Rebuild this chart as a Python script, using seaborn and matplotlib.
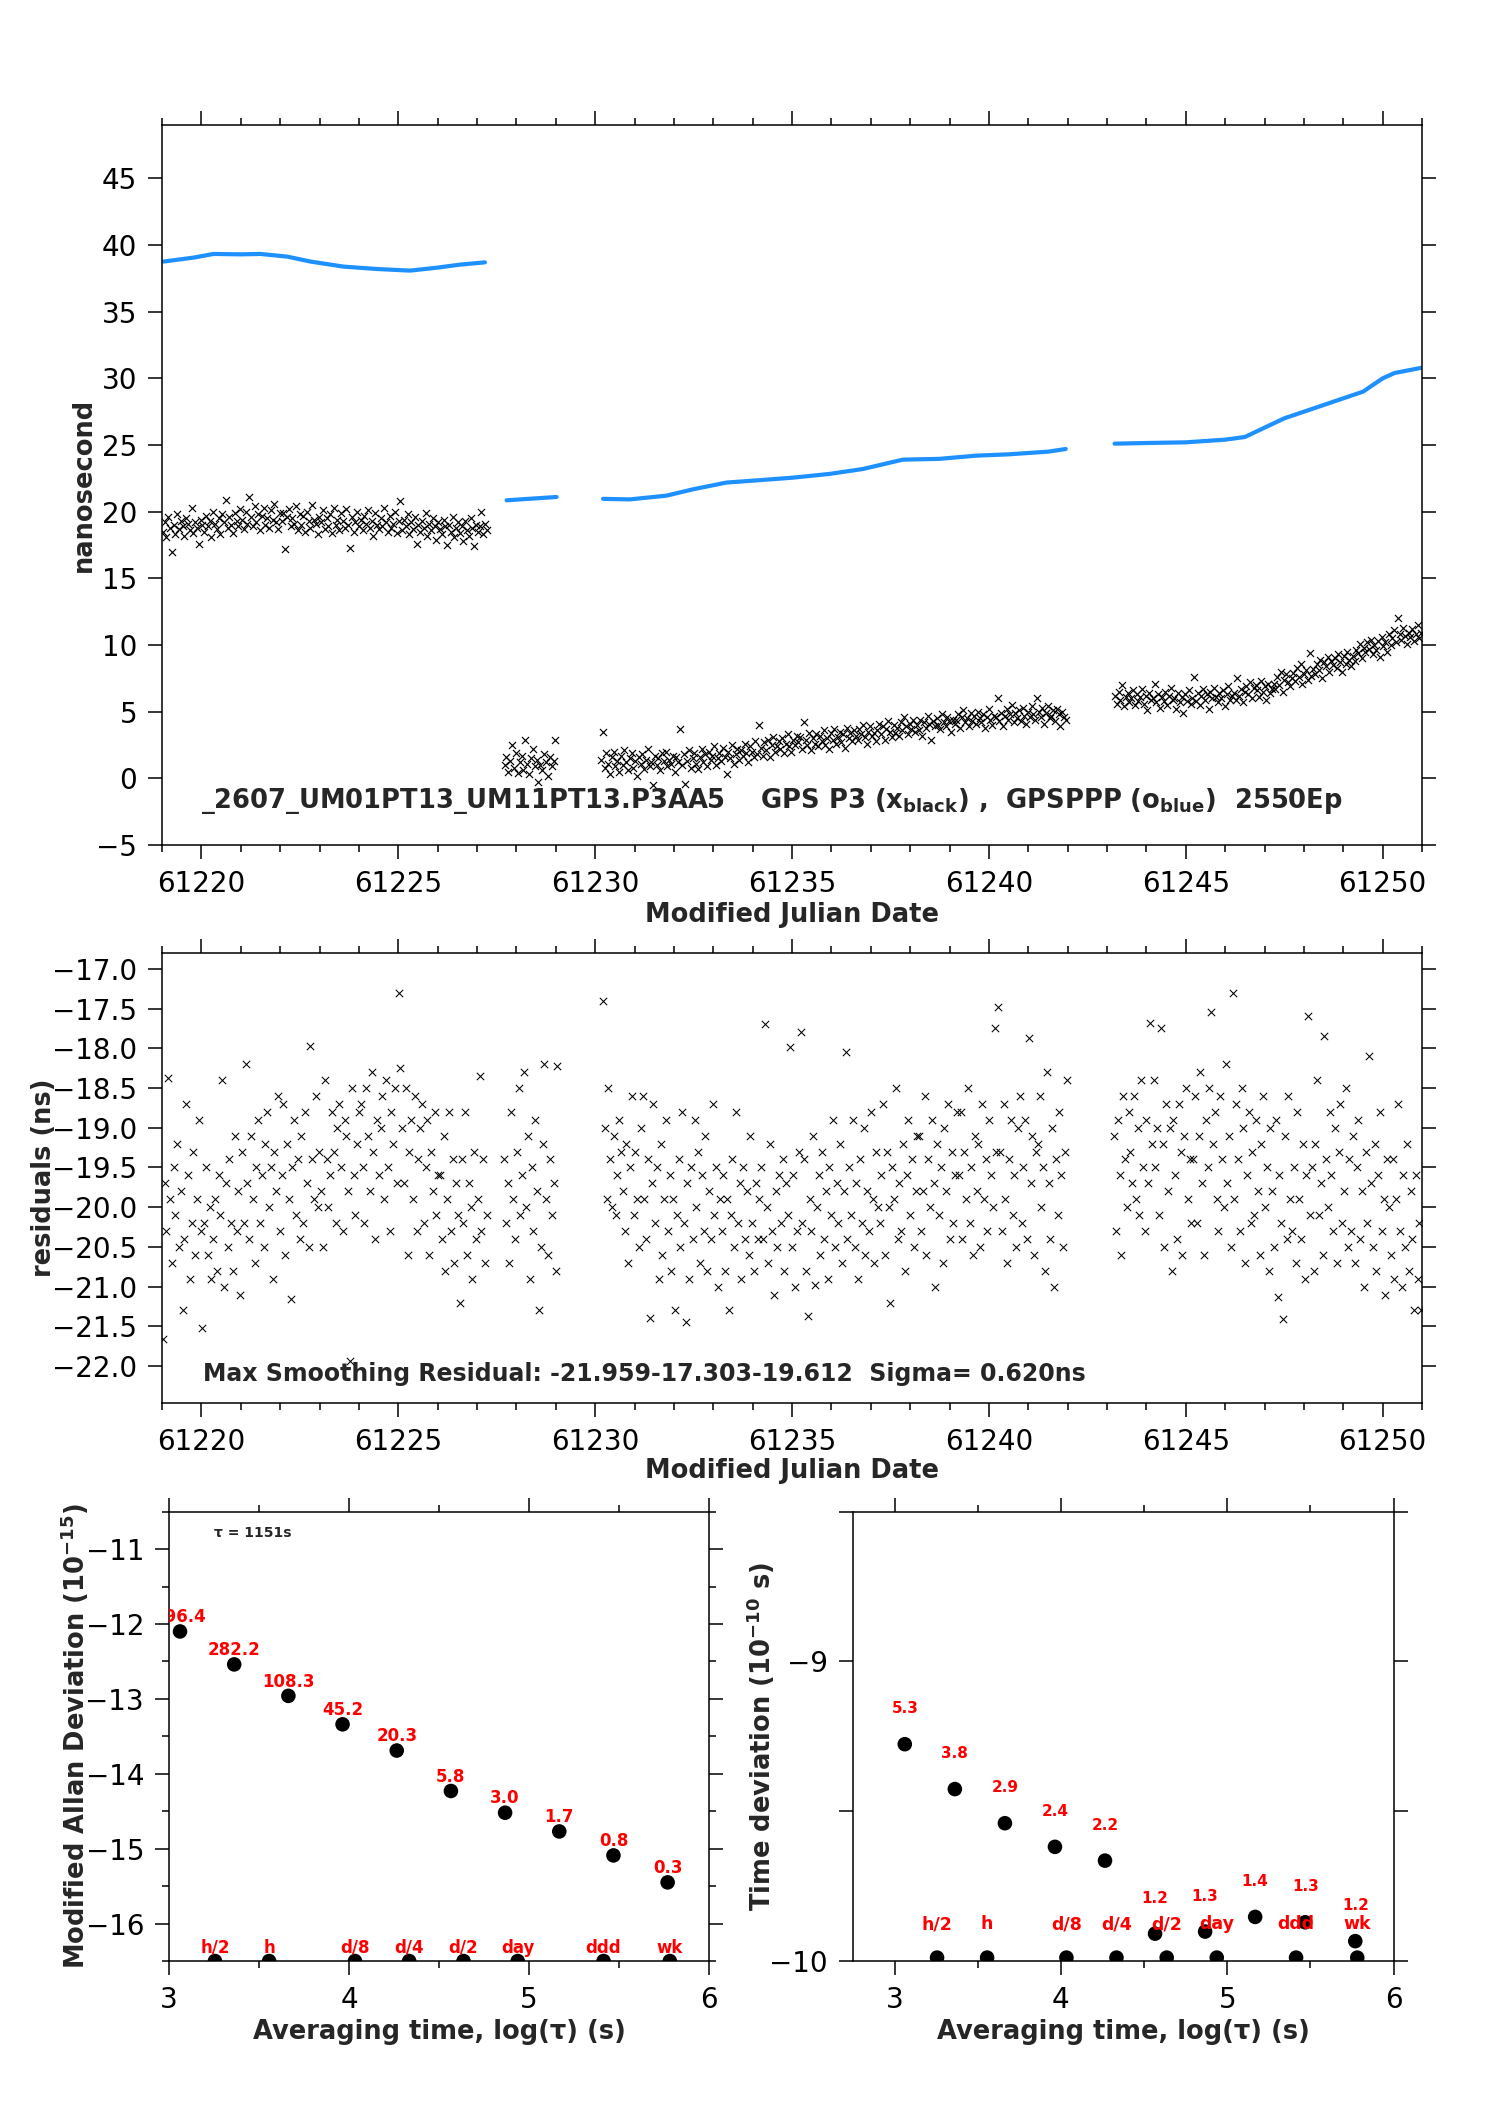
import numpy as np
import pandas as pd
import matplotlib
matplotlib.use("Agg")
import matplotlib.pyplot as plt
from matplotlib.ticker import MultipleLocator, FuncFormatter
import seaborn as sns

# ------------------------------------------------------------------ data
# Top panel: GPS P3 clock differences (black x), four data segments (ns)
p3_seg_start = [61219.02, 61227.70, 61230.15, 61243.20]
p3_seg_end = [61227.25, 61228.99, 61241.95, 61250.98]
p3_a = [18.5, 19.2, 18.1, 19.6, 18.8, 17.0, 19.0, 18.3, 19.8, 18.7, 19.3,
        18.9, 18.2, 19.5, 19.1, 18.6, 20.3, 18.4, 19.2, 18.8, 17.6, 19.4,
        19.0, 18.5, 19.7, 18.9, 19.3, 18.1, 20.0, 19.1, 18.7, 19.5, 18.3,
        19.8, 19.2, 20.9, 18.8, 19.6, 19.0, 18.4, 19.9, 19.3, 18.9, 20.2,
        19.4, 18.7, 20.0, 19.1, 21.1, 19.6, 18.9, 20.4, 19.2, 19.8, 18.6,
        19.7, 20.3, 19.0, 19.5, 18.8, 20.1, 19.4, 20.6, 19.2, 18.7, 19.9,
        19.3, 19.9, 17.2, 19.6, 20.2, 18.9, 19.5, 19.1, 20.4, 18.6, 19.8,
        19.0, 19.7, 18.5, 20.0, 19.3, 18.8, 20.5, 19.4, 19.1, 18.3, 19.6,
        19.2, 20.1, 18.7, 19.5, 18.9, 19.8, 18.4, 20.3, 19.0, 19.4, 18.6,
        19.9, 19.3, 18.8, 20.2, 19.0, 17.3, 19.6, 18.5, 19.2, 20.0, 18.9,
        19.4, 18.6, 19.7, 19.1, 20.1, 18.8, 19.3, 18.2, 19.9, 19.0, 18.7,
        19.5, 18.9, 20.3, 19.2, 18.5, 19.7, 18.8, 19.1, 20.0, 18.4, 19.3,
        20.8, 18.6, 19.4, 18.9, 19.8, 18.3, 19.2, 18.7, 19.6, 17.6, 19.0,
        18.5, 19.3, 18.8, 19.9, 18.2, 19.1, 18.6, 19.5, 18.9, 17.9, 19.2,
        18.7, 18.3, 19.4, 18.9, 17.5, 19.0, 18.5, 19.6, 18.1, 18.8, 19.2,
        18.4, 18.9, 17.8, 19.3, 18.6, 18.2, 19.5, 18.8, 17.4, 19.0, 18.5,
        18.9, 20.0, 18.3, 19.1, 18.6]
p3_b = [1.0, 1.6, 0.5, 1.3, 2.5, 0.8, 1.9, 0.4, 1.2, 1.7, 0.6, 2.9, 1.1, 0.3,
        1.5, 2.2, 0.9, 1.4, -0.3, 1.0, 0.6, 1.8, 1.2, 0.2, 1.6, 0.9, 1.3, 2.9]
p3_c = [1.4, 3.5, 0.8, 1.9, 1.1, 0.3, 1.6, 2.0, 0.9, 1.3, 0.5,
        1.7, 1.0, 2.1, 1.2, 0.6, 1.5, 1.9, 0.8, 1.3, 0.2, 1.6,
        1.1, 1.8, 0.7, 1.4, 2.2, 0.9, 1.2, -0.5, 1.7, 1.0, 1.5,
        0.6, 1.9, 1.3, 2.0, 0.9, 1.4, 1.1, 1.7, 0.5, 1.6, 1.2,
        3.7, 1.0, 1.8, -0.4, 1.3, 2.1, 0.8, 1.5, 1.9, 1.1, 0.7,
        1.6, 2.2, 1.2, 1.8, 0.9, 2.0, 1.4, 1.7, 2.4, 1.0, 1.5,
        1.9, 1.3, 2.3, 1.6, 0.3, 2.0, 1.5, 2.5, 1.1, 1.8, 2.2,
        1.4, 2.1, 1.7, 2.6, 1.9, 1.2, 2.4, 2.0, 1.6, 2.8, 1.8,
        4.0, 2.3, 1.7, 2.7, 2.1, 2.9, 1.6, 2.5, 3.1, 2.0, 2.4,
        2.8, 2.2, 3.0, 1.9, 2.6, 3.3, 2.4, 2.0, 2.9, 2.5, 3.2,
        2.7, 3.1, 2.2, 4.2, 2.9, 2.5, 3.4, 2.1, 3.0, 2.6, 3.3,
        2.4, 3.2, 2.8, 3.6, 2.5, 3.0, 2.2, 3.4, 2.9, 3.7, 2.6,
        3.1, 3.5, 2.7, 3.3, 2.3, 3.8, 3.0, 3.4, 2.8, 3.6, 3.2,
        2.9, 3.7, 3.3, 4.0, 3.1, 2.6, 3.5, 3.9, 3.2, 3.4, 2.8,
        3.6, 4.1, 3.3, 3.9, 2.9, 3.7, 4.3, 3.5, 3.1, 4.0, 3.4,
        3.8, 3.2, 4.2, 3.6, 4.6, 3.9, 3.3, 4.1, 3.7, 4.4, 3.5,
        4.0, 3.6, 4.4, 3.2, 4.2, 3.8, 4.7, 4.1, 2.9, 4.3, 3.9,
        4.5, 4.0, 3.7, 4.8, 4.2, 3.9, 4.6, 4.3, 3.5, 4.4, 4.1,
        4.4, 4.8, 3.8, 4.6, 5.1, 4.2, 4.5, 3.9, 4.9, 4.3, 4.7,
        4.1, 5.0, 4.5, 4.2, 4.8, 3.8, 4.6, 5.2, 4.4, 4.0, 4.7,
        4.6, 6.0, 4.3, 4.9, 3.9, 4.7, 5.2, 4.4, 4.8, 5.5, 4.2,
        4.9, 4.5, 5.1, 4.3, 5.3, 4.7, 4.1, 5.0, 4.6, 5.4, 4.8,
        4.4, 6.0, 5.0, 4.6, 5.3, 4.1, 4.9, 5.4, 4.5, 4.7, 5.1,
        4.3, 5.2, 4.8, 3.9, 5.0, 4.6, 4.4]
p3_d = [6.2, 5.6, 6.5, 5.9, 7.0, 5.4, 6.1, 6.4, 5.7, 6.0, 6.6,
        5.5, 6.3, 5.8, 6.1, 6.7, 5.6, 6.2, 5.1, 6.4, 5.9, 6.0,
        7.1, 5.7, 6.3, 5.3, 6.1, 5.8, 6.5, 5.5, 6.2, 6.8, 5.9,
        6.0, 5.2, 6.4, 5.7, 6.1, 4.9, 6.3, 5.8, 6.6, 5.6, 6.0,
        7.6, 5.8, 6.4, 5.5, 6.2, 6.7, 5.9, 6.3, 5.2, 6.5, 6.0,
        6.8, 6.1, 5.7, 6.4, 6.0, 6.6, 5.4, 6.3, 6.9, 5.9, 6.2,
        6.4, 5.9, 7.5, 6.2, 6.7, 5.7, 6.5, 6.9, 6.3, 7.2, 6.0,
        6.8, 7.0, 6.6, 6.1, 7.3, 6.5, 6.9, 5.9, 7.1, 6.4, 6.7,
        7.1, 6.7, 7.6, 7.0, 8.0, 6.5, 7.4, 7.8, 7.2, 6.9, 7.5,
        7.9, 7.3, 8.3, 7.6, 8.6, 7.1, 7.8, 8.1, 7.4, 9.4, 7.7,
        8.2, 7.8, 8.6, 8.1, 8.9, 7.5, 8.7, 8.4, 9.1, 8.0, 8.8,
        8.5, 9.0, 8.3, 9.3, 8.7, 8.0, 9.2, 8.6, 9.5, 8.9, 8.4,
        9.2, 8.8, 9.6, 9.4, 10.1, 9.0, 9.8, 9.5, 10.2, 9.7, 10.4,
        9.3, 10.0, 9.6, 10.3, 9.1, 10.6, 9.9, 10.2, 9.5, 10.8, 10.0,
        10.5, 11.1, 10.2, 12.0, 10.8, 10.4, 11.3, 10.7, 10.1, 10.9, 10.6,
        11.2, 10.3, 10.8, 11.5, 10.5, 10.9]

# Top panel: GPSPPP (blue)
ppp_a_mjd = [61219.04, 61219.81, 61220.31, 61221.0, 61221.50, 61222.18, 61222.77, 61223.61,
             61224.46, 61225.30, 61225.98, 61226.57, 61227.2]
ppp_a_ns = [38.76, 39.06, 39.33, 39.30, 39.33, 39.13, 38.76, 38.38, 38.2, 38.08, 38.3, 38.53, 38.7]
ppp_b_mjd = [61227.75, 61228.4, 61229.02]
ppp_b_ns = [20.85, 20.98, 21.1]
ppp_c_mjd = [61230.2, 61230.88, 61231.81, 61232.49, 61233.33, 61234.26, 61235.02, 61235.95,
             61236.8, 61237.81, 61238.74, 61239.67, 61240.5, 61241.0, 61241.5, 61241.95]
ppp_c_ns = [20.96, 20.92, 21.2, 21.68, 22.18, 22.38, 22.55, 22.83, 23.2, 23.9, 23.96, 24.2,
            24.3, 24.4, 24.5, 24.7]
ppp_d_mjd = [61243.19, 61244.0, 61245.0, 61246.0, 61246.5, 61247.0, 61247.5, 61248.0, 61248.5,
             61249.0, 61249.5, 61250.0, 61250.3, 61251.0]
ppp_d_ns = [25.1, 25.15, 25.2, 25.4, 25.6, 26.3, 27.0, 27.5, 28.0, 28.5, 29.0, 30.0, 30.4, 30.8]

# Middle panel: smoothing residuals (ns)
res_seg_start = [61219.02, 61227.68, 61230.20, 61243.18]
res_seg_end = [61227.25, 61229.04, 61241.97, 61250.98]
res_a = [-21.66, -19.7, -20.3, -18.38, -19.9, -20.7, -19.5, -20.1, -19.2, -20.5, -19.8,
         -21.3, -20.4, -18.7, -19.6, -20.9, -20.2, -19.3, -20.6, -19.9, -18.9, -20.3,
         -21.52, -20.2, -19.5, -20.6, -20.0, -20.9, -20.4, -19.9, -20.8, -19.6, -20.1,
         -18.4, -21.0, -19.7, -20.5, -19.4, -20.2, -20.8, -19.1, -20.3, -19.8, -21.1,
         -19.3, -20.2, -18.2, -19.7, -20.4, -19.1, -19.9, -20.7, -19.5, -18.9, -20.2,
         -19.6, -20.5, -19.2, -18.8, -20.0, -19.5, -20.9, -19.3, -19.8, -18.6, -20.3,
         -19.6, -18.7, -20.6, -19.2, -19.9, -21.15, -19.5, -18.9, -20.1, -19.4, -20.4,
         -19.1, -20.2, -18.8, -19.7, -20.5, -17.97, -19.4, -19.9, -18.6, -20.0, -19.3,
         -19.8, -20.5, -18.4, -19.4, -20.0, -19.6, -18.8, -19.3, -20.2, -19.0, -18.7,
         -19.5, -20.3, -18.9, -19.1, -19.8, -21.94, -18.5, -19.6, -20.1, -19.2, -18.8,
         -18.7, -19.5, -20.2, -18.5, -19.1, -19.8, -18.3, -19.3, -20.4, -18.9, -19.6,
         -19.0, -18.6, -19.9, -18.4, -19.5, -20.3, -18.8, -19.2, -18.5, -19.7, -17.30,
         -18.25, -19.0, -19.7, -18.5, -20.6, -19.3, -18.9, -19.9, -18.6, -20.3, -19.4,
         -19.0, -18.7, -20.2, -19.5, -18.9, -20.6, -19.3, -19.8, -18.8, -20.1, -19.6,
         -19.6, -20.4, -19.1, -20.8, -19.9, -18.8, -20.3, -19.4, -20.7, -19.7, -20.1,
         -21.2, -19.4, -20.2, -18.8, -20.6, -19.7, -20.0, -20.9, -19.3, -20.4, -19.9,
         -18.35, -20.3, -19.4, -20.7, -20.1]
res_b = [-19.4, -20.2, -19.7, -20.7, -18.8, -19.9, -20.4, -19.3, -18.5, -20.1, -19.6, -18.3,
         -20.0, -19.1, -20.9, -19.5, -20.3, -18.9, -19.8, -21.3, -20.5, -19.2, -18.2, -19.9,
         -20.6, -19.4, -20.1, -19.7, -20.8, -18.22]
res_c = [-17.4, -19.0, -19.9, -18.5, -19.4, -20.0, -19.1, -20.1, -19.6, -18.9, -19.3,
         -19.8, -20.3, -19.2, -20.7, -19.5, -18.6, -20.1, -19.3, -19.9, -20.5, -19.0,
         -18.6, -19.9, -20.4, -19.4, -21.4, -19.7, -18.7, -20.2, -19.5, -20.9, -19.2,
         -20.6, -19.9, -18.9, -20.3, -19.6, -20.8, -19.9, -21.3, -20.1, -19.4, -20.5,
         -18.8, -20.2, -21.45, -19.7, -20.9, -19.5, -20.4, -18.9, -20.0, -19.3, -20.7,
         -19.6, -20.3, -19.1, -20.8, -19.8, -20.4, -18.7, -20.1, -19.5, -21.0, -19.9,
         -20.3, -19.6, -20.8, -19.9, -21.3, -20.1, -19.4, -20.5, -18.8, -20.2, -19.7,
         -20.9, -19.5, -20.4, -19.8, -20.6, -19.1, -20.2, -20.8, -19.7, -20.4, -19.9,
         -19.5, -20.4, -17.7, -20.0, -20.7, -19.2, -20.3, -21.1, -19.8, -20.5, -19.6,
         -20.2, -19.4, -20.8, -19.7, -20.1, -17.98, -20.5, -19.6, -21.0, -20.3, -19.3,
         -17.8, -20.2, -19.4, -20.8, -21.37, -19.9, -20.3, -19.1, -20.98, -20.0, -19.6,
         -20.6, -19.3, -20.4, -19.8, -20.9, -19.5, -20.1, -18.9, -20.5, -19.7, -20.2,
         -19.2, -20.7, -19.8, -18.05, -20.4, -19.5, -20.1, -18.9, -20.5, -19.7, -20.9,
         -19.4, -20.2, -19.0, -20.6, -19.8, -20.3, -18.8, -19.9, -20.7, -19.3, -20.0,
         -20.2, -19.6, -18.7, -20.6, -19.3, -20.0, -21.2, -19.5, -19.9, -18.5, -20.4,
         -19.7, -20.3, -19.2, -20.8, -19.6, -18.9, -20.1, -19.4, -20.5, -19.8, -19.1,
         -19.1, -20.3, -19.8, -18.6, -20.6, -19.4, -20.0, -18.9, -19.7, -21.0, -19.2,
         -20.1, -19.5, -20.7, -19.0, -19.8, -18.7, -20.4, -19.3, -20.2, -19.6, -18.8,
         -19.6, -18.8, -20.4, -19.3, -19.9, -18.5, -20.2, -19.5, -20.6, -19.1, -19.8,
         -19.2, -20.5, -18.7, -19.9, -19.4, -20.3, -18.9, -19.6, -20.0, -17.75, -19.3,
         -17.48, -19.3, -20.3, -18.7, -19.9, -20.7, -19.4, -18.9, -20.1, -19.6, -20.5,
         -19.0, -18.6, -20.2, -19.5, -18.9, -20.4, -17.87, -19.7, -19.1, -20.6, -19.3,
         -19.2, -18.6, -20.0, -19.5, -20.8, -18.3, -19.7, -20.4, -19.0, -21.0, -19.4,
         -20.1, -18.8, -19.6, -20.5, -19.3, -18.4]
res_d = [-19.1, -20.3, -18.9, -19.6, -20.6, -18.6, -19.4, -20.0, -18.8, -19.3, -19.7,
         -18.6, -19.9, -19.0, -20.1, -18.4, -19.5, -20.3, -18.9, -19.7, -17.68, -19.2,
         -18.4, -19.5, -19.0, -20.1, -17.75, -19.2, -20.5, -18.7, -19.8, -19.0, -20.8,
         -18.9, -19.6, -20.4, -18.7, -19.3, -20.6, -19.1, -18.5, -19.9, -19.4, -20.2,
         -19.4, -18.6, -20.2, -19.1, -18.3, -19.7, -20.6, -18.9, -19.5, -18.5, -17.55,
         -19.2, -18.8, -19.9, -20.3, -18.6, -19.4, -20.0, -18.2, -19.7, -19.1, -20.5,
         -17.30, -19.9, -18.7, -19.4, -20.3, -18.5, -19.0, -20.7, -19.6, -18.8, -20.2,
         -19.3, -20.1, -18.9, -19.8, -20.6, -19.2, -18.6, -20.0, -19.5, -20.8, -19.0,
         -19.8, -20.5, -18.9, -21.13, -19.6, -20.2, -21.41, -19.1, -20.4, -18.6, -19.9,
         -20.3, -19.5, -20.7, -18.8, -19.9, -20.4, -19.2, -20.9, -19.6, -17.6, -20.1,
         -19.5, -20.8, -19.2, -18.4, -20.1, -19.7, -20.6, -17.85, -19.4, -20.0, -18.8,
         -19.6, -20.3, -19.0, -20.7, -19.3, -18.7, -20.2, -19.8, -18.5, -20.5, -19.4,
         -20.3, -19.1, -20.7, -19.5, -18.9, -20.4, -19.8, -21.0, -19.3, -20.2, -18.1,
         -19.7, -20.5, -19.2, -20.8, -19.6, -18.8, -20.3, -19.9, -21.1, -19.4, -20.0,
         -20.6, -19.4, -20.9, -19.9, -18.7, -20.3, -21.0, -19.6, -20.5, -19.2, -20.8,
         -19.8, -20.4, -21.3, -19.6, -20.9, -20.2, -21.3]

# Bottom panels: stability (log10 values)
log_tau = [3.061, 3.362, 3.663, 3.964, 4.265, 4.566, 4.867, 5.168, 5.469, 5.770]
mdev_log = [-12.10, -12.54, -12.96, -13.34, -13.69, -14.23, -14.52, -14.77, -15.09, -15.45]
mdev_text = ["796.4", "282.2", "108.3", "45.2", "20.3", "5.8", "3.0", "1.7", "0.8", "0.3"]
tdev_log = [-9.277, -9.427, -9.541, -9.620, -9.666, -9.910, -9.903, -9.854, -9.872, -9.935]
tdev_text = ["5.3", "3.8", "2.9", "2.4", "2.2", "1.2", "1.3", "1.4", "1.3", "1.2"]
mark_log_tau = [3.255, 3.556, 4.033, 4.334, 4.636, 4.937, 5.414, 5.782]
mark_names = ["h/2", "h", "d/8", "d/4", "d/2", "day", "ddd", "wk"]

# ------------------------------------------------------------------ style
sns.set_style("ticks")
plt.rcParams["font.family"] = ["DejaVu Sans"]
plt.rcParams["mathtext.fontset"] = "dejavusans"
BLUE = "#1E90FF"
RED = "#FF0000"
TICK_FS = 20
LAB_FS = 18.5

fig = plt.figure(figsize=(14.88, 21.05), dpi=100)
ax1 = fig.add_axes([0.1089, 0.5986, 0.8468, 0.3420])
ax2 = fig.add_axes([0.1089, 0.3337, 0.8468, 0.2135])
ax3 = fig.add_axes([0.1136, 0.0684, 0.3629, 0.2135])
ax4 = fig.add_axes([0.5733, 0.0686, 0.3632, 0.2133])


def style_axes(ax):
    for s in ax.spines.values():
        s.set_linewidth(1.1)
        s.set_color("black")
    ax.tick_params(which="both", direction="out", top=True, right=True,
                   labeltop=False, labelright=False, width=1.1, colors="black")
    ax.tick_params(which="major", length=10, pad=8, labelsize=TICK_FS)
    ax.tick_params(which="minor", length=5)


def segments(starts, ends, lists):
    frames = []
    for k, (s, e, v) in enumerate(zip(starts, ends, lists)):
        frames.append(pd.DataFrame({"mjd": np.linspace(s, e, len(v)), "val": v, "seg": k}))
    return pd.concat(frames, ignore_index=True)


# ---------------- top panel
p3 = segments(p3_seg_start, p3_seg_end, [p3_a, p3_b, p3_c, p3_d])
for mjd, ns in [(ppp_a_mjd, ppp_a_ns), (ppp_b_mjd, ppp_b_ns), (ppp_c_mjd, ppp_c_ns), (ppp_d_mjd, ppp_d_ns)]:
    sns.lineplot(x=mjd, y=ns, ax=ax1, color=BLUE, lw=3.0, sort=False, estimator=None)
sns.scatterplot(data=p3, x="mjd", y="val", ax=ax1, marker="x", color="black",
                s=26, linewidth=0.85, legend=False)
ax1.set_xlim(61219, 61251)
ax1.set_ylim(-5, 49)
ax1.xaxis.set_major_locator(MultipleLocator(5))
ax1.xaxis.set_minor_locator(MultipleLocator(1))
ax1.yaxis.set_major_locator(MultipleLocator(5))
ax1.xaxis.set_major_formatter(FuncFormatter(lambda v, p: f"{v:.0f}"))
style_axes(ax1)
ax1.set_xlabel("Modified Julian Date", fontsize=LAB_FS, fontweight="bold", va="top")
ax1.xaxis.set_label_coords(0.5, -0.079)
ax1.set_ylabel("nanosecond", fontsize=LAB_FS, fontweight="bold", va="center")
ax1.yaxis.set_label_coords(-0.062, 0.5)
ax1.text(61220.0, -2.25,
         r"_2607_UM01PT13_UM11PT13.P3AA5    GPS P3 (x$_{\mathbf{black}}$) ,  GPSPPP (o$_{\mathbf{blue}}$)  2550Ep",
         fontsize=18.5, fontweight="bold", ha="left", va="baseline")

# ---------------- middle panel
res = segments(res_seg_start, res_seg_end, [res_a, res_b, res_c, res_d])
sns.scatterplot(data=res, x="mjd", y="val", ax=ax2, marker="x", color="black",
                s=28, linewidth=0.75, legend=False)
ax2.set_xlim(61219, 61251)
ax2.set_ylim(-22.459, -16.803)
ax2.xaxis.set_major_locator(MultipleLocator(5))
ax2.xaxis.set_minor_locator(MultipleLocator(1))
ax2.yaxis.set_major_locator(MultipleLocator(0.5))
ax2.xaxis.set_major_formatter(FuncFormatter(lambda v, p: f"{v:.0f}"))
ax2.yaxis.set_major_formatter(FuncFormatter(lambda v, p: f"{v:.1f}".replace("-", "\u2212")))
style_axes(ax2)
ax2.set_xlabel("Modified Julian Date", fontsize=LAB_FS, fontweight="bold", va="top")
ax2.xaxis.set_label_coords(0.5, -0.1235)
ax2.set_ylabel("residuals (ns)", fontsize=LAB_FS, fontweight="bold", va="center")
ax2.yaxis.set_label_coords(-0.094, 0.5)
ax2.text(61220.03, -22.19,
         "Max Smoothing Residual: -21.959-17.303-19.612  Sigma= 0.620ns",
         fontsize=17, fontweight="bold", ha="left", va="baseline")

# ---------------- bottom-left: modified Allan deviation
stab = pd.DataFrame({"logtau": log_tau, "mdev": mdev_log, "tdev": tdev_log})
marks = pd.DataFrame({"logtau": mark_log_tau, "name": mark_names})
sns.scatterplot(data=stab, x="logtau", y="mdev", ax=ax3, color="black", s=110,
                edgecolor="none", legend=False)
sns.scatterplot(x=marks["logtau"], y=[-16.5] * len(marks), ax=ax3, color="black", s=110,
                edgecolor="none", legend=False)
for xv, yv, t in zip(log_tau, mdev_log, mdev_text):
    ax3.text(xv, yv + 0.19, t, color=RED, fontsize=12, fontweight="bold",
             ha="center", va="center", clip_on=True)
for xv, t in zip(mark_log_tau, mark_names):
    ax3.text(xv, -16.32, t, color=RED, fontsize=12, fontweight="bold",
             ha="center", va="center")
ax3.text(3.25, -10.79, "\u03c4 = 1151s", fontsize=10, fontweight="bold", ha="left", va="center")
ax3.set_xlim(3, 6)
ax3.set_ylim(-16.5, -10.5)
ax3.xaxis.set_major_locator(MultipleLocator(1))
ax3.xaxis.set_minor_locator(MultipleLocator(0.5))
ax3.yaxis.set_major_locator(MultipleLocator(1))
ax3.yaxis.set_minor_locator(MultipleLocator(0.5))
ax3.xaxis.set_major_formatter(FuncFormatter(lambda v, p: f"{v:.0f}"))
ax3.yaxis.set_major_formatter(FuncFormatter(lambda v, p: f"{v:.0f}".replace("-", "\u2212")))
style_axes(ax3)
ax3.set_xlabel("Averaging time, log(\u03c4) (s)", fontsize=LAB_FS, fontweight="bold", va="top")
ax3.xaxis.set_label_coords(0.5, -0.129)
ax3.set_ylabel(r"Modified Allan Deviation (10$^{\mathbf{-15}}$)", fontsize=LAB_FS,
               fontweight="bold", va="center")
ax3.yaxis.set_label_coords(-0.175, 0.5)

# ---------------- bottom-right: time deviation
sns.scatterplot(data=stab, x="logtau", y="tdev", ax=ax4, color="black", s=110,
                edgecolor="none", legend=False)
sns.scatterplot(x=marks["logtau"], y=[-9.99] * len(marks), ax=ax4, color="black", s=110,
                edgecolor="none", legend=False)
for xv, yv, t in zip(log_tau, tdev_log, tdev_text):
    ax4.text(xv, yv + 0.118, t, color=RED, fontsize=11, fontweight="bold",
             ha="center", va="center")
for xv, t in zip(mark_log_tau, mark_names):
    ax4.text(xv, -9.879, t, color=RED, fontsize=12.5, fontweight="bold",
             ha="center", va="center")
ax4.set_xlim(2.75, 6)
ax4.set_ylim(-10, -8.5)
ax4.xaxis.set_major_locator(MultipleLocator(1))
ax4.xaxis.set_minor_locator(MultipleLocator(0.5))
ax4.yaxis.set_major_locator(MultipleLocator(0.5))
ax4.xaxis.set_major_formatter(FuncFormatter(lambda v, p: f"{v:.0f}"))
ax4.yaxis.set_major_formatter(FuncFormatter(
    lambda v, p: (f"{v:.0f}".replace("-", "\u2212") if abs(v - round(v)) < 1e-6 and v > -9.9 or abs(v + 10) < 1e-6 else "")))
style_axes(ax4)
ax4.set_xlabel("Averaging time, log(\u03c4) (s)", fontsize=LAB_FS, fontweight="bold", va="top")
ax4.xaxis.set_label_coords(0.5, -0.129)
ax4.set_ylabel(r"Time deviation (10$^{\mathbf{-10}}$ s)", fontsize=LAB_FS,
               fontweight="bold", va="center")
ax4.yaxis.set_label_coords(-0.17, 0.5)

fig.savefig("out.png", dpi=100)
